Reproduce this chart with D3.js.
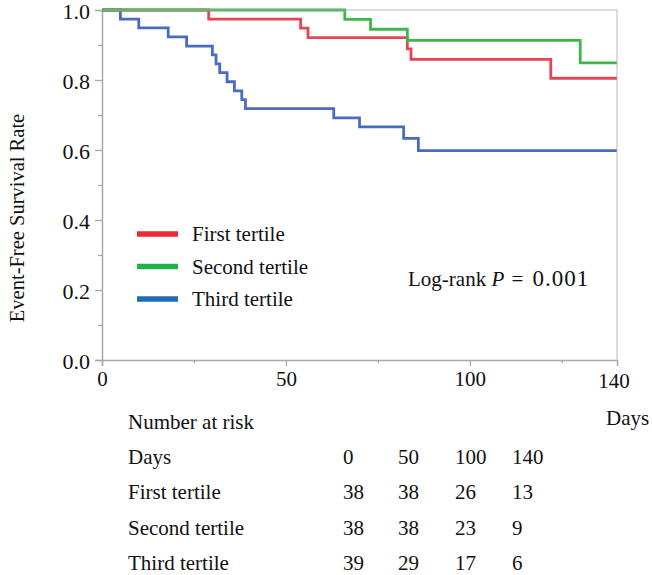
<!DOCTYPE html>
<html>
<head>
<meta charset="utf-8">
<script src="https://cdn.jsdelivr.net/npm/d3@7"></script>
<style>
  body { margin: 0; background: #fff; }
  svg text { font-family: "Liberation Serif", "Times New Roman", serif; fill: #111; }
</style>
</head>
<body>
<div id="chart"></div>
<script>
// series names + colours
var groups = ["First tertile", "Second tertile", "Third tertile"];
var lineColors = ["#e14657", "#3db64b", "#4a6cc0"];
var legendColors = ["#ec2a31", "#22b04b", "#1f6db5"];

// Kaplan-Meier steps (day, survival)
var firstDays = [0, 29, 54, 56, 83, 84, 122, 140];
var firstSurv = [1.0, 0.974, 0.948, 0.921, 0.889, 0.859, 0.805, 0.805];
var secondDays = [0, 66, 73, 83, 130, 140];
var secondSurv = [1.0, 0.973, 0.945, 0.913, 0.849, 0.849];
var thirdDays = [0, 5, 10, 18, 23, 30, 31, 32, 34, 36, 38, 39, 63, 70, 82, 86, 140];
var thirdSurv = [1.0, 0.974, 0.949, 0.923, 0.897, 0.872, 0.846, 0.821, 0.795, 0.769, 0.744, 0.718, 0.692, 0.666, 0.633, 0.598, 0.598];

// number at risk table
var riskDays = [0, 50, 100, 140];
var firstAtRisk = [38, 38, 26, 13];
var secondAtRisk = [38, 38, 23, 9];
var thirdAtRisk = [39, 29, 17, 6];

var xMajor = [0, 50, 100];
var xMinor = [25, 75, 125];

var width = 652, height = 575;
var margin = {top: 10, right: 35, bottom: 215, left: 102};
var fs = "21px";

var svg = d3.select("#chart").append("svg")
  .attr("width", width).attr("height", height);

var x = d3.scaleLinear().domain([0, 140]).range([margin.left, width - margin.right]);
var y = d3.scaleLinear().domain([0, 1]).range([height - margin.bottom, margin.top]);

var grey = "#a9a9a9";

// axes
var xAxis = svg.append("g").attr("transform", "translate(0," + y(0) + ")")
  .call(d3.axisBottom(x).tickValues(xMajor).tickSize(6).tickFormat(d3.format("d")));
svg.append("g").attr("transform", "translate(0," + y(0) + ")")
  .call(d3.axisBottom(x).tickValues(xMinor).tickSize(3).tickFormat(""))
  .select(".domain").remove();
// 140 label, no tick mark
svg.append("text").attr("x", x(140) - 3).attr("y", y(0) + 28)
  .attr("text-anchor", "middle").style("font-size", fs).text("140");

var yAxis = svg.append("g").attr("transform", "translate(" + x(0) + ",0)")
  .call(d3.axisLeft(y).tickValues([0, 0.2, 0.4, 0.6, 0.8, 1.0]).tickSize(7).tickFormat(d3.format(".1f")));
svg.append("g").attr("transform", "translate(" + x(0) + ",0)")
  .call(d3.axisLeft(y).tickValues([0.1, 0.3, 0.5, 0.7, 0.9]).tickSize(4).tickFormat(""))
  .select(".domain").remove();

svg.selectAll(".domain").attr("stroke", grey).attr("stroke-width", 1.5);
svg.selectAll(".tick line").attr("stroke", grey).attr("stroke-width", 1.3);
xAxis.selectAll(".tick text").style("font-size", fs).attr("dy", "0.9em").attr("y", 7);
yAxis.selectAll(".tick text").style("font-size", "22px").attr("x", -12).attr("dy", "0.4em");

// curves
var line = d3.line()
  .x(function (d) { return x(d[0]); })
  .y(function (d) { return y(d[1]); })
  .curve(d3.curveStepAfter);

var curves = [
  d3.zip(firstDays, firstSurv),
  d3.zip(secondDays, secondSurv),
  d3.zip(thirdDays, thirdSurv)
];
// third under, then first, second on top
[2, 0, 1].forEach(function (i) {
  svg.append("path").datum(curves[i])
    .attr("d", line)
    .attr("fill", "none")
    .attr("stroke", lineColors[i])
    .attr("stroke-width", 2.8);
});

// frame top + right (drawn over curves, light)
svg.append("path")
  .attr("d", "M" + x(0) + "," + y(1) + "H" + x(140) + "V" + y(0))
  .attr("fill", "none").attr("stroke", grey).attr("stroke-width", 1.5)
  .attr("stroke-opacity", 0.55);

// y title
svg.append("text")
  .attr("transform", "translate(24,218) rotate(-90)")
  .attr("text-anchor", "middle").style("font-size", "20.5px")
  .text("Event-Free Survival Rate");

// Days label
svg.append("text").attr("x", 606).attr("y", 425).style("font-size", fs).text("Days");

// legend
var legendY = [234, 266.5, 299];
groups.forEach(function (g, i) {
  svg.append("line")
    .attr("x1", 137).attr("x2", 178).attr("y1", legendY[i]).attr("y2", legendY[i])
    .attr("stroke", legendColors[i]).attr("stroke-width", 5.5);
  svg.append("text").attr("x", 192).attr("y", legendY[i] + 7)
    .style("font-size", fs).text(g);
});

// log-rank
var lr = svg.append("text").attr("x", 408).attr("y", 286).style("font-size", fs);
lr.append("tspan").text("Log-rank ");
lr.append("tspan").style("font-style", "italic").text("P");
lr.append("tspan").attr("dx", 2).text(" = ");
lr.append("tspan").attr("dx", 4).style("font-size", "23px").style("letter-spacing", "1px").text("0.001");

// number at risk table
var rowY = d3.range(5).map(function (k) { return 428.5 + k * 35.4; });
var colX = [343, 398, 455, 512];
var rows = [
  ["Days", riskDays],
  [groups[0], firstAtRisk],
  [groups[1], secondAtRisk],
  [groups[2], thirdAtRisk]
];
svg.append("text").attr("x", 128).attr("y", rowY[0]).style("font-size", fs).text("Number at risk");
rows.forEach(function (r, i) {
  svg.append("text").attr("x", 128).attr("y", rowY[i + 1]).style("font-size", fs).text(r[0]);
  r[1].forEach(function (v, j) {
    svg.append("text").attr("x", colX[j]).attr("y", rowY[i + 1]).style("font-size", fs).text(v);
  });
});
</script>
</body>
</html>
